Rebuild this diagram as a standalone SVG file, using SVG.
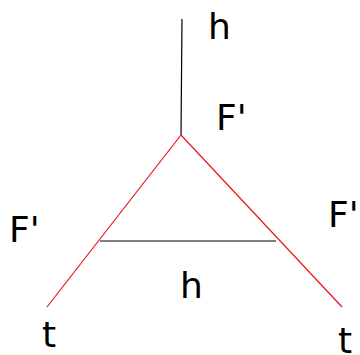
<svg xmlns="http://www.w3.org/2000/svg" width="360" height="355" viewBox="0 0 360 355">
<style>
.lbl{font-family:"DejaVu Sans",sans-serif;font-size:36px;fill:#000}
.red{stroke:#e8141c;stroke-width:1.2;fill:none}
.blk{stroke:#000;stroke-width:1.2;fill:none}
.gry{stroke:#555;stroke-width:1.5;fill:none}
</style>
<rect width="360" height="355" fill="#fff"/>
<g id="connectors">
<line class="blk" x1="182" y1="19" x2="181" y2="135"/>
<line class="red" x1="181" y1="135" x2="47" y2="307"/>
<line class="red" x1="181" y1="135" x2="342" y2="307"/>
<line class="gry" x1="100" y1="241" x2="276" y2="241"/>
</g>
<g id="labels">
<text class="lbl" x="208" y="39">h</text>
<text class="lbl" x="216" y="130">F'</text>
<text class="lbl" x="9" y="242">F'</text>
<text class="lbl" x="328" y="227">F'</text>
<text class="lbl" x="180" y="298">h</text>
<text class="lbl" x="42" y="347">t</text>
<text class="lbl" x="338" y="353">t</text>
</g>
</svg>
